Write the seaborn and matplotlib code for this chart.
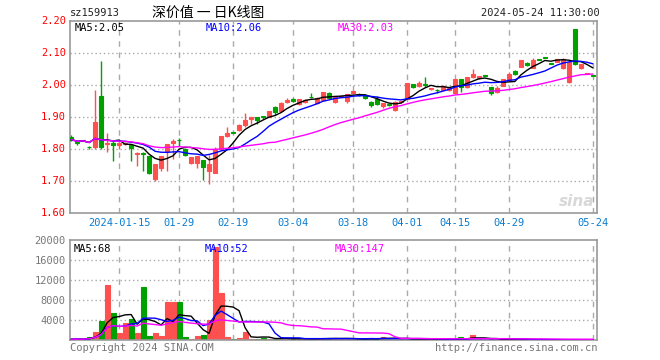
import numpy as np
import pandas as pd
import matplotlib
matplotlib.use("Agg")
import matplotlib.pyplot as plt
import seaborn as sns

# ---------------- data ----------------
opens = [1.836, 1.819, 1.825, 1.806, 1.805, 1.964, 1.815, 1.816, 1.811, 1.815,
         1.811, 1.782, 1.787, 1.777, 1.704, 1.740, 1.793, 1.816, 1.828, 1.798,
         1.755, 1.755, 1.764, 1.730, 1.724, 1.797, 1.839, 1.852, 1.857, 1.873,
         1.893, 1.898, 1.900, 1.899, 1.930, 1.916, 1.945, 1.956, 1.939, 1.945,
         1.962, 1.941, 1.951, 1.975, 1.946, 1.962, 1.949, 1.972, 1.969, 1.967,
         1.945, 1.954, 1.933, 1.938, 1.920, 1.945, 1.956, 2.001, 1.996, 2.000,
         1.985, 1.984, 1.984, 1.982, 1.974, 2.016, 1.993, 2.022, 2.019, 2.030,
         1.992, 1.977, 1.996, 2.014, 2.042, 2.055, 2.068, 2.053, 2.079, 2.085,
         2.066, 2.071, 2.052, 2.008, 2.173, 2.053, 2.033, 2.030]
highs = [1.842, 1.823, 1.828, 1.807, 1.982, 2.073, 1.847, 1.828, 1.820, 1.819,
         1.815, 1.788, 1.790, 1.778, 1.752, 1.777, 1.815, 1.830, 1.834, 1.803,
         1.775, 1.777, 1.765, 1.779, 1.805, 1.840, 1.866, 1.853, 1.878, 1.911,
         1.898, 1.900, 1.903, 1.918, 1.934, 1.944, 1.959, 1.958, 1.955, 1.955,
         1.975, 1.960, 1.977, 1.977, 1.964, 1.966, 1.971, 1.981, 1.972, 1.970,
         1.947, 1.964, 1.942, 1.943, 1.947, 1.949, 2.005, 2.002, 2.011, 2.022,
         1.990, 1.985, 1.997, 1.991, 2.017, 2.018, 2.024, 2.050, 2.028, 2.031,
         1.993, 1.996, 2.017, 2.040, 2.045, 2.077, 2.069, 2.082, 2.080, 2.087,
         2.067, 2.080, 2.082, 2.072, 2.174, 2.065, 2.036, 2.031]
lows = [1.825, 1.812, 1.822, 1.798, 1.797, 1.800, 1.790, 1.761, 1.800, 1.812,
        1.761, 1.745, 1.729, 1.720, 1.700, 1.730, 1.730, 1.766, 1.807, 1.776,
        1.753, 1.740, 1.703, 1.688, 1.722, 1.795, 1.836, 1.849, 1.856, 1.866,
        1.878, 1.876, 1.893, 1.898, 1.905, 1.913, 1.941, 1.946, 1.935, 1.943,
        1.958, 1.938, 1.950, 1.957, 1.943, 1.960, 1.943, 1.971, 1.965, 1.955,
        1.930, 1.936, 1.928, 1.932, 1.917, 1.943, 1.955, 1.990, 1.991, 1.993,
        1.983, 1.974, 1.982, 1.980, 1.970, 1.977, 1.990, 2.020, 2.017, 2.027,
        1.968, 1.975, 1.994, 2.012, 2.031, 2.054, 2.058, 2.052, 2.077, 2.082,
        2.064, 2.070, 2.050, 2.006, 2.060, 2.050, 2.032, 2.027]
closes = [1.828, 1.817, 1.826, 1.804, 1.882, 1.805, 1.817, 1.811, 1.817, 1.817,
          1.803, 1.787, 1.782, 1.722, 1.751, 1.776, 1.814, 1.824, 1.826, 1.779,
          1.774, 1.776, 1.743, 1.751, 1.800, 1.839, 1.847, 1.850, 1.872, 1.889,
          1.897, 1.889, 1.898, 1.917, 1.915, 1.942, 1.953, 1.948, 1.954, 1.953,
          1.960, 1.959, 1.975, 1.959, 1.961, 1.964, 1.970, 1.979, 1.967, 1.959,
          1.935, 1.939, 1.941, 1.936, 1.946, 1.947, 2.004, 1.993, 2.005, 1.997,
          1.988, 1.982, 1.995, 1.990, 2.016, 1.993, 2.022, 2.032, 2.026, 2.028,
          1.974, 1.989, 2.016, 2.034, 2.034, 2.076, 2.061, 2.076, 2.078, 2.084,
          2.065, 2.079, 2.081, 2.071, 2.063, 2.064, 2.035, 2.028]
volumes = [150, 200, 150, 533, 1667, 3867, 11000, 5467, 1467, 3333,
           4200, 1333, 10667, 800, 1467, 800, 7667, 7667, 7667, 600,
           267, 800, 1000, 4000, 18667, 9467, 600, 200, 400, 1667,
           267, 200, 467, 300, 250, 300, 250, 200, 300, 250,
           200, 250, 350, 400, 350, 200, 300, 200, 150, 150,
           400, 200, 667, 250, 300, 150, 300, 150, 200, 200,
           150, 100, 120, 100, 150, 667, 150, 1000, 150, 100,
           120, 100, 100, 80, 100, 120, 80, 100, 40, 30,
           30, 40, 40, 60, 120, 60, 80, 20]
tick_pos = [8, 18, 27, 37, 47, 56, 64, 73, 87]
tick_labels = ["2024-01-15", "01-29", "02-19", "03-04", "03-18",
               "04-01", "04-15", "04-29", "05-24"]
price_ticks = [1.60, 1.70, 1.80, 1.90, 2.00, 2.10, 2.20]
vol_ticks = [4000, 8000, 12000, 16000, 20000]

# ---------------- style ----------------
RED = "#FF5050"
GREEN = "#00A000"
GRID = "#AAAAAA"
BORDER = "#999999"

sns.set_theme(style="white")
plt.rcParams["font.family"] = ["DejaVu Sans Mono", "Noto Sans CJK SC"]

W, H = 660, 360
fig = plt.figure(figsize=(6.6, 3.6), dpi=100)
fig.patch.set_facecolor("white")


def rect(l, t, r, b):
    return [l / W, 1 - b / H, (r - l) / W, (b - t) / H]


def ftext(x, y, s, **kw):
    fig.text(x / W, 1 - y / H, s, **kw)


ax = fig.add_axes(rect(70, 20.5, 597, 212.5))
axv = fig.add_axes(rect(70, 240, 597, 340))

n = len(closes)
idx = np.arange(n)
o = np.array(opens); c = np.array(closes)
hi = np.array(highs); lo = np.array(lows)
up = c >= o
cols = np.where(up, RED, GREEN)

df = pd.DataFrame({"x": idx, "open": o, "close": c, "high": hi, "low": lo,
                   "vol": volumes, "dir": np.where(up, "up", "down")})
df["ma5"] = df["close"].rolling(5, min_periods=1).mean()
df["ma10"] = df["close"].rolling(10, min_periods=1).mean()
df["ma30"] = df["close"].rolling(30, min_periods=1).mean()
df["vma5"] = df["vol"].rolling(5, min_periods=1).mean()
df["vma10"] = df["vol"].rolling(10, min_periods=1).mean()
df["vma30"] = df["vol"].rolling(30, min_periods=1).mean()

# ---------------- price panel ----------------
for p in price_ticks[1:-1]:
    ax.axhline(p, color=GRID, lw=1, ls=(0, (1, 2)), zorder=0)
for t in tick_pos:
    ax.axvline(t, color=GRID, lw=1, ls=(0, (4, 4)), zorder=0)

ax.vlines(idx, lo, hi, colors=cols, lw=1, zorder=2)
ax.bar(idx, np.abs(c - o), bottom=np.minimum(o, c), width=0.68,
       color=cols, edgecolor=cols, linewidth=0.8, zorder=3)

sns.lineplot(data=df, x="x", y="ma5", ax=ax, color="black", lw=1, zorder=4)
sns.lineplot(data=df, x="x", y="ma10", ax=ax, color="#0000FF", lw=1, zorder=4)
sns.lineplot(data=df, x="x", y="ma30", ax=ax, color="#FF00FF", lw=1, zorder=4)

ax.set_xlim(-0.2, 87.7)
ax.set_ylim(1.60, 2.20)
ax.set_yticks(price_ticks)
ax.set_yticklabels([f"{p:.2f}" for p in price_ticks], color="red", fontsize=7.5)
ax.set_xticks(tick_pos)
ax.set_xticklabels(tick_labels, color="#0A7CD0", fontsize=7.5)
ax.tick_params(axis="both", length=0, pad=3)
ax.tick_params(axis="x", pad=4)
ax.set_xlabel(""); ax.set_ylabel("")
for s in ax.spines.values():
    s.set_color(BORDER); s.set_linewidth(1.2); s.set_visible(True)

ax.text(0.008, 0.985, "MA5:2.05", transform=ax.transAxes, ha="left", va="top",
        color="black", fontsize=7.5)
ax.text(0.257, 0.985, "MA10:2.06", transform=ax.transAxes, ha="left", va="top",
        color="#0000FF", fontsize=7.5)
ax.text(0.507, 0.985, "MA30:2.03", transform=ax.transAxes, ha="left", va="top",
        color="#FF00FF", fontsize=7.5)
ax.text(0.995, 0.02, "sina", transform=ax.transAxes, ha="right", va="bottom",
        color="#D8D8D8", fontsize=11, fontweight="bold", fontstyle="italic",
        family="DejaVu Sans")

# ---------------- volume panel ----------------
for v in vol_ticks[:-1]:
    axv.axhline(v, color=GRID, lw=1, ls=(0, (1, 2)), zorder=0)
for t in tick_pos:
    axv.axvline(t, color=GRID, lw=1, ls=(0, (4, 4)), zorder=0)

axv.bar(idx, df["vol"], width=0.82, color=cols, edgecolor=cols,
        linewidth=0.8, zorder=2)

sns.lineplot(data=df, x="x", y="vma5", ax=axv, color="black", lw=1, zorder=4)
sns.lineplot(data=df, x="x", y="vma10", ax=axv, color="#0000FF", lw=1, zorder=4)
sns.lineplot(data=df, x="x", y="vma30", ax=axv, color="#FF00FF", lw=1, zorder=4)

axv.set_xlim(-0.2, 87.7)
axv.set_ylim(0, 20000)
axv.set_yticks(vol_ticks)
axv.set_yticklabels([str(v) for v in vol_ticks], color="#777777", fontsize=7.5)
axv.set_xticks([])
axv.tick_params(axis="both", length=0, pad=3)
axv.set_xlabel(""); axv.set_ylabel("")
for s in axv.spines.values():
    s.set_color(BORDER); s.set_linewidth(1.2); s.set_visible(True)

axv.text(0.006, 0.96, "MA5:68", transform=axv.transAxes, ha="left", va="top",
         color="black", fontsize=7.5)
axv.text(0.255, 0.96, "MA10:52", transform=axv.transAxes, ha="left", va="top",
         color="#0000FF", fontsize=7.5)
axv.text(0.502, 0.96, "MA30:147", transform=axv.transAxes, ha="left", va="top",
         color="#FF00FF", fontsize=7.5)

# ---------------- header / footer ----------------
ftext(70, 13, "sz159913", ha="left", va="center", fontsize=7.5, color="#222222")
ftext(208, 13, "深价值 一 日K线图", ha="center", va="center", fontsize=10,
      color="black", family=["Noto Sans CJK SC", "DejaVu Sans"])
ftext(600, 13, "2024-05-24 11:30:00", ha="right", va="center", fontsize=7.5,
      color="#222222")
ftext(70, 348, "Copyright 2024 SINA.COM", ha="left", va="center", fontsize=7.5,
      color="#777777")
ftext(597, 348, "http://finance.sina.com.cn", ha="right", va="center",
      fontsize=7.5, color="#777777")

fig.savefig("out.png", dpi=100, facecolor="white")
